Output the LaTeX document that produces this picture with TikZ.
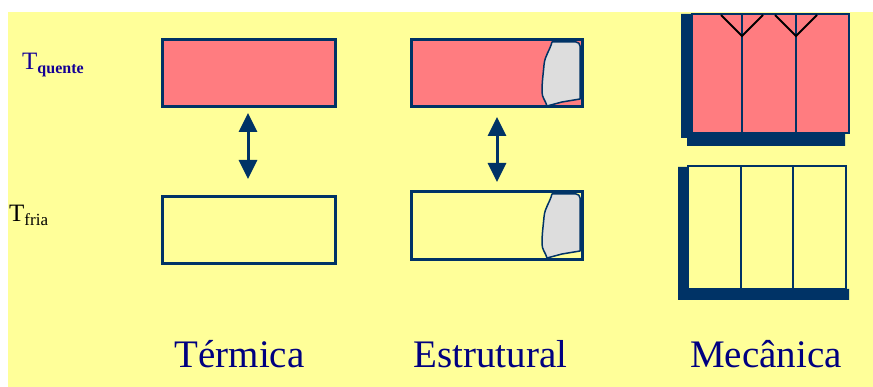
\documentclass[tikz,border=0pt]{standalone}
\usepackage{fontspec}
\setmainfont{Liberation Serif}
\usetikzlibrary{arrows.meta}
\definecolor{bgyellow}{RGB}{255,255,153}
\definecolor{hotpink}{RGB}{255,124,128}
\definecolor{navy}{RGB}{0,51,102}
\definecolor{txtblue}{RGB}{0,0,128}
\definecolor{tqblue}{RGB}{20,0,150}
\definecolor{blobgrey}{RGB}{221,221,221}
\tikzset{
  box/.style={draw=navy, line width=3pt, inner sep=0pt, outer sep=0pt},
  hot/.style={box, fill=hotpink},
  cold/.style={box, fill=bgyellow},
  dblarrow/.style={draw=navy, line width=3pt, {Triangle[width=18pt,length=19pt]}-{Triangle[width=18pt,length=19pt]}},
  blob/.style={draw=navy, line width=1.5pt, fill=blobgrey, line join=round},
  divider/.style={draw=navy, line width=2.5pt},
  crack/.style={draw=black, line width=2pt},
  shadow/.style={fill=navy},
  caption/.style={anchor=base, text=txtblue, font=\fontsize{39}{39}\selectfont, inner sep=0pt},
}
\begin{document}
\begin{tikzpicture}[x=1pt,y=-1pt]
\useasboundingbox (0,0) rectangle (873,387);
\fill[bgyellow] (8,12) rectangle (873,387);

% labels
\node[anchor=base west, inner sep=0pt, text=tqblue] (tq) at (22,70)
  {{\fontsize{25}{25}\selectfont T}\raisebox{-4pt}{\fontsize{16}{16}\selectfont\bfseries quente}};
\node[anchor=base west, inner sep=0pt, text=black] (tf) at (9,222)
  {{\fontsize{25}{25}\selectfont T}\raisebox{-4pt}{\fontsize{17}{17}\selectfont fria}};

% Termica
\node[hot, minimum width=173pt, minimum height=67pt] (th) at (248.5,73.5) {};
\node[cold, minimum width=173pt, minimum height=67pt] (tc) at (248.5,230.5) {};
\coordinate (ta1) at (248,113);
\coordinate (ta2) at (248,179);
\draw[dblarrow] (ta1) -- (ta2);

% Estrutural
\node[hot, minimum width=171pt, minimum height=67pt] (eh) at (496.5,73.5) {};
\node[cold, minimum width=171pt, minimum height=68pt] (ec) at (496.5,226) {};
\draw[blob] (552,42) -- (576,42) to[out=0,in=90] (580,46) -- (580,99) -- (562,102) -- (547,106)
  to[out=105,in=-90] (542,92) to[out=90,in=-95] (544,65) to[out=85,in=-105] (552,42) -- cycle;
\draw[blob] (552,194) -- (576,194) to[out=0,in=90] (580,198) -- (580,251) -- (562,254) -- (547,258)
  to[out=105,in=-90] (542,244) to[out=90,in=-95] (544,217) to[out=85,in=-105] (552,194) -- cycle;
\coordinate (ea1) at (497,117);
\coordinate (ea2) at (497,182);
\draw[dblarrow] (ea1) -- (ea2);

% Mecanica top
\fill[shadow] (681,14) -- (692,14) -- (692,132) -- (845,132) -- (845,146) -- (687,146) -- (687,138) -- (681,138) -- cycle;
\node[hot, line width=2pt, minimum width=157pt, minimum height=119pt] (mh) at (770.5,73.5) {};
\draw[divider] (742,14) -- (742,132);
\draw[divider] (796,14) -- (796,132);
\draw[crack] (721,15) -- (742,36) -- (763,15);
\draw[crack] (775,15) -- (796,36) -- (817,15);

% Mecanica bottom
\fill[shadow] (678,167) -- (688,167) -- (688,289) -- (849,289) -- (849,300) -- (678,300) -- cycle;
\node[cold, line width=2pt, minimum width=158pt, minimum height=123pt] (mc) at (767,227.5) {};
\draw[divider] (741,166) -- (741,289);
\draw[divider] (793,166) -- (793,289);

% captions
\node[caption] (c1) at (239.5,367) {Térmica};
\node[caption] (c2) at (490.5,367) {Estrutural};
\node[caption] (c3) at (766,367) {Mecânica};
\end{tikzpicture}
\end{document}
